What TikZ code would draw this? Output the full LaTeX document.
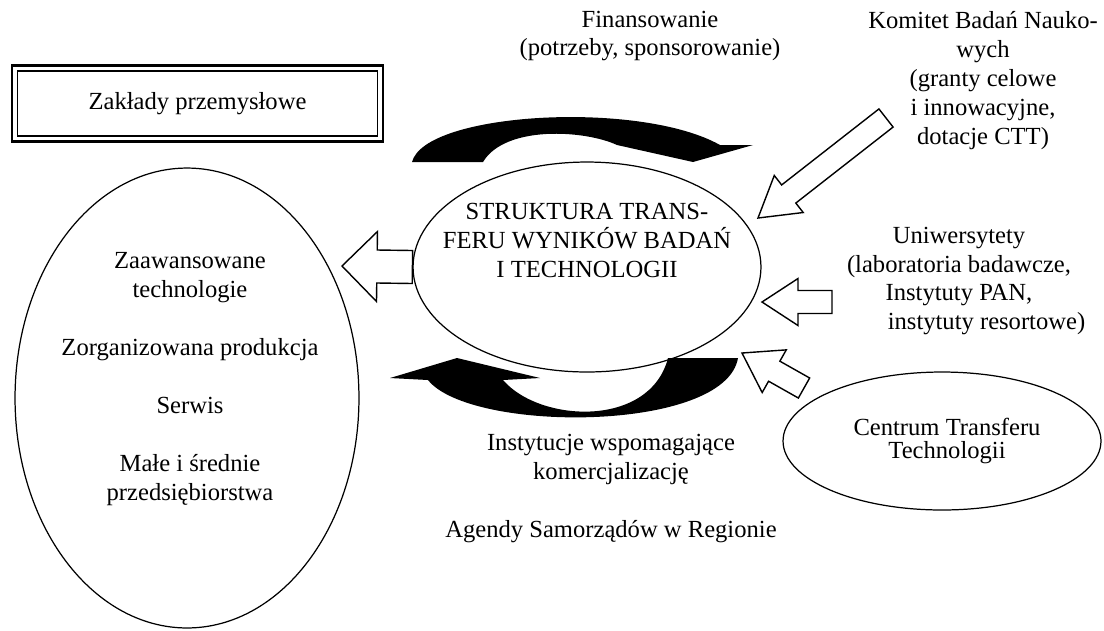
\documentclass[tikz,border=0pt]{standalone}
\usepackage{fontspec}
\setmainfont{Liberation Serif}
\usetikzlibrary{calc, positioning, shapes.geometric}

\tikzset{
  txt/.style={font=\fontsize{14}{16.5}\selectfont, align=center, inner sep=0pt},
  oval/.style={draw, ellipse, line width=0.7pt, inner sep=0pt},
  hollow/.style={draw, fill=white, line width=0.8pt, line join=miter},
  bent/.style={fill=black},
}

% block arrow: from, to, shaft half width, head half width, head length
\newcommand{\hollowarrow}[5]{%
  \coordinate (ha-b) at ($(#2)!#5!(#1)$);
  \draw[hollow] ($(#1)!#3!90:(#2)$) -- ($(ha-b)!#3!-90:(#1)$) -- ($(ha-b)!#4!-90:(#1)$)
    -- (#2) -- ($(ha-b)!#4!90:(#1)$) -- ($(ha-b)!#3!90:(#1)$) -- ($(#1)!#3!-90:(#2)$) -- cycle;
}

\begin{document}
\begin{tikzpicture}[x=0.02cm, y=-0.02cm]
  \useasboundingbox (0,0) rectangle (1104,630);

  % box with double frame
  \node[draw, line width=1.6pt, minimum width=7.42cm, minimum height=1.52cm, txt] (zaklady) at (197.5,103.5) {Zakłady przemysłowe};
  \draw[line width=0.8pt] ($(zaklady.south west)+(7,-7)$) rectangle ($(zaklady.north east)+(-7,7)$);

  % ovals
  \node[oval, minimum width=6.88cm, minimum height=9.2cm] (firmy) at (187,398) {};
  \node[txt] (firmy-txt) at (190,379) {Zaawansowane\\technologie\\[16.5pt]Zorganizowana produkcja\\[16.5pt]Serwis\\[16.5pt]Małe i średnie\\przedsiębiorstwa};
  \node[oval, minimum width=6.96cm, minimum height=4.2cm] (struktura) at (587,267) {};
  \node[txt] (struktura-txt) at (587,240) {STRUKTURA TRANS-\\FERU WYNIKÓW BADAŃ\\I TECHNOLOGII};
  \node[oval, txt, font=\fontsize{14}{13}\selectfont, minimum width=6.36cm, minimum height=2.76cm] (ctt) at (942,441) {\hspace*{0.2cm}Centrum Transferu\\\hspace*{0.2cm}Technologii};

  % labels
  \node[txt] (finanse) at (650,36) {Finansowanie\\(potrzeby, sponsorowanie)};
  \node[txt] (kbn) at (983,81) {Komitet Badań Nauko-\\wych\\(granty celowe\\i innowacyjne,\\dotacje CTT)};
  \node[txt] (uczelnie) at (959,281) {Uniwersytety\\(laboratoria badawcze,\\Instytuty PAN,\\\hspace*{1.1cm}instytuty resortowe)};
  \node[txt] (instytucje) at (611,459) {Instytucje wspomagające\\komercjalizację};
  \node[txt] (agendy) at (611,532) {Agendy Samorządów w Regionie};

  % black bent arrows
  \fill[bent] (412,162) .. controls (425,112) and (640,100) .. (720,145) -- (753,145) -- (693,162)
    -- (617,145) .. controls (585,130) and (505,125) .. (483,162) -- cycle;
  \fill[bent] (738,358) .. controls (725,433) and (470,433) .. (428,380) -- (390,378) -- (457,358)
    -- (540,378) -- (503,380) .. controls (540,423) and (650,428) .. (668,358) -- cycle;

  % hollow arrows
  \coordinate (firmy-in) at (342,266);
  \coordinate (kbn-out) at (886,118);
  \coordinate (kbn-in) at (758,218);
  \coordinate (uczelnie-out) at (832,302);
  \coordinate (uczelnie-in) at (762,302);
  \coordinate (ctt-out) at (804,388);
  \coordinate (ctt-in) at (742,353);
  \hollowarrow{struktura.west}{firmy-in}{0.33cm}{0.7cm}{0.7cm}
  \hollowarrow{kbn-out}{kbn-in}{0.23cm}{0.47cm}{0.78cm}
  \hollowarrow{uczelnie-out}{uczelnie-in}{0.23cm}{0.47cm}{0.72cm}
  \hollowarrow{ctt-out}{ctt-in}{0.23cm}{0.49cm}{0.74cm}
\end{tikzpicture}
\end{document}
